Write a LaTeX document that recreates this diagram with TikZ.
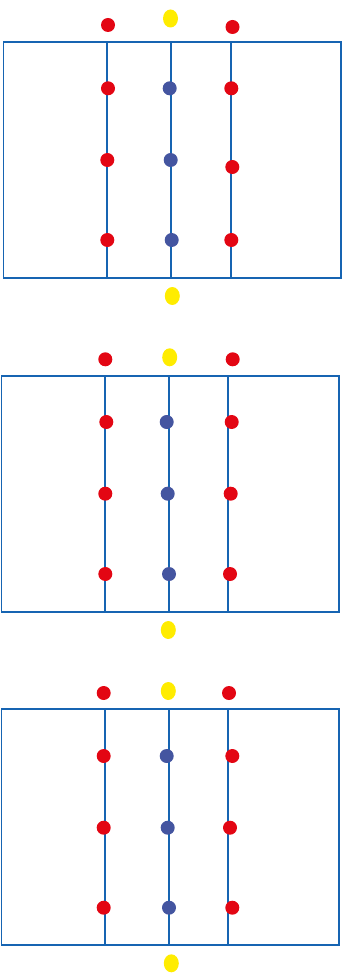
\documentclass[tikz,border=0pt]{standalone}
\usetikzlibrary{shapes.geometric}
\definecolor{lineblue}{RGB}{22,100,178}
\definecolor{dotred}{RGB}{227,6,19}
\definecolor{dotblue}{RGB}{68,85,160}
\definecolor{dotyellow}{RGB}{255,236,0}
\tikzset{
  frame/.style={draw=lineblue, line width=1.9pt},
  wire/.style={draw=lineblue, line width=1.9pt},
  rdot/.style={circle, fill=dotred, inner sep=0pt, minimum size=14pt},
  bdot/.style={circle, fill=dotblue, inner sep=0pt, minimum size=14pt},
  ydot/.style={ellipse, fill=dotyellow, inner sep=0pt, minimum width=15pt, minimum height=18pt}
}
\begin{document}
\begin{tikzpicture}[x=1pt,y=-1pt]
\useasboundingbox (0,0) rectangle (347,973);
% ---------- panel 1 ----------
\coordinate (aT1) at (107,42);  \coordinate (aB1) at (107,278);
\coordinate (bT1) at (171,42); \coordinate (bB1) at (171,278);
\coordinate (cT1) at (231,42);  \coordinate (cB1) at (231,278);
\draw[wire] (aT1) -- (aB1);
\draw[wire] (bT1) -- (bB1);
\draw[wire] (cT1) -- (cB1);
\draw[frame] (3.5,42) rectangle (341,278);
\node[rdot] (t1a) at (108,25) {};
\node[ydot] (t1b) at (170.5,18.5) {};
\node[rdot] (t1c) at (232.5,27) {};
\node[rdot] (r11a) at (108,88.3) {};
\node[bdot] (r11b) at (169.7,88.3) {};
\node[rdot] (r11c) at (231.3,88.3) {};
\node[rdot] (r12a) at (107.3,160) {};
\node[bdot] (r12b) at (170.7,160) {};
\node[rdot] (r12c) at (232.3,167) {};
\node[rdot] (r13a) at (107.3,240) {};
\node[bdot] (r13b) at (171.7,240) {};
\node[rdot] (r13c) at (231.3,240) {};
\node[ydot] (u1b) at (172.3,296) {};
% ---------- panel 2 ----------
\coordinate (aT2) at (104.7,375.7);  \coordinate (aB2) at (104.7,611.7);
\coordinate (bT2) at (168.7,375.7); \coordinate (bB2) at (168.7,611.7);
\coordinate (cT2) at (228,375.7);  \coordinate (cB2) at (228,611.7);
\draw[wire] (aT2) -- (aB2);
\draw[wire] (bT2) -- (bB2);
\draw[wire] (cT2) -- (cB2);
\draw[frame] (1.5,375.7) rectangle (339,611.7);
\node[rdot] (t2a) at (105.3,359.3) {};
\node[ydot] (t2b) at (169.7,357.3) {};
\node[rdot] (t2c) at (232.7,359.3) {};
\node[rdot] (r21a) at (106.3,422) {};
\node[bdot] (r21b) at (166.7,422) {};
\node[rdot] (r21c) at (231.7,422) {};
\node[rdot] (r22a) at (105.3,493.7) {};
\node[bdot] (r22b) at (167.7,493.7) {};
\node[rdot] (r22c) at (230.7,493.7) {};
\node[rdot] (r23a) at (105.3,574) {};
\node[bdot] (r23b) at (169,574) {};
\node[rdot] (r23c) at (230,574) {};
\node[ydot] (u2b) at (168.3,630) {};
% ---------- panel 3 ----------
\coordinate (aT3) at (104.7,709.3);  \coordinate (aB3) at (104.7,945.3);
\coordinate (bT3) at (168.7,709.3); \coordinate (bB3) at (168.7,945.3);
\coordinate (cT3) at (228,709.3);  \coordinate (cB3) at (228,945.3);
\draw[wire] (aT3) -- (aB3);
\draw[wire] (bT3) -- (bB3);
\draw[wire] (cT3) -- (cB3);
\draw[frame] (1.5,709.3) rectangle (338.7,945.3);
\node[rdot] (t3a) at (103.7,693) {};
\node[ydot] (t3b) at (168.3,691) {};
\node[rdot] (t3c) at (229,693) {};
\node[rdot] (r31a) at (103.7,756) {};
\node[bdot] (r31b) at (166.7,756) {};
\node[rdot] (r31c) at (232.3,756) {};
\node[rdot] (r32a) at (103.7,827.7) {};
\node[bdot] (r32b) at (167.7,827.7) {};
\node[rdot] (r32c) at (230,827.7) {};
\node[rdot] (r33a) at (103.7,907.7) {};
\node[bdot] (r33b) at (169,907.7) {};
\node[rdot] (r33c) at (232.3,907.7) {};
\node[ydot] (u3b) at (171.3,963.3) {};
\end{tikzpicture}
\end{document}
